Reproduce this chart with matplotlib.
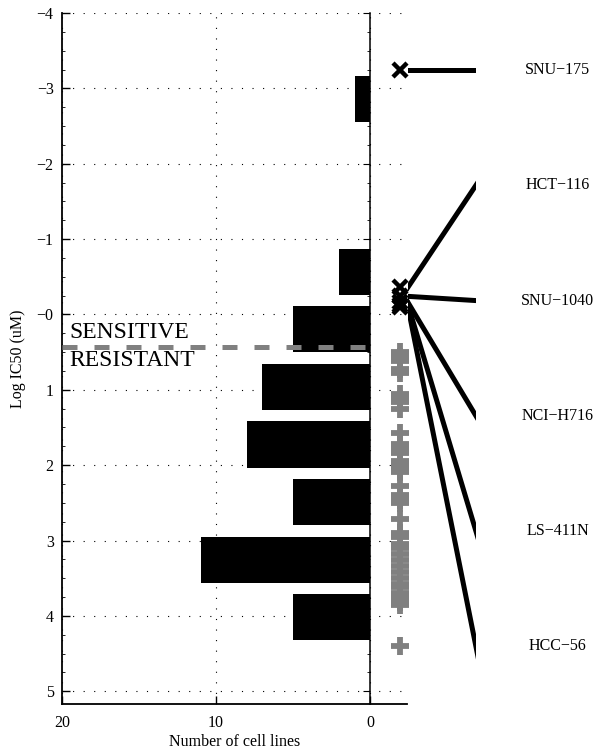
import numpy as np
import matplotlib
matplotlib.use("Agg")
import matplotlib.pyplot as plt
from matplotlib.patches import Rectangle
from matplotlib.ticker import MultipleLocator

plt.rcParams["font.family"] = ["Liberation Serif", "DejaVu Serif"]

# Sensitive cell lines (log IC50, uM) and their names
sensitive_names = ["SNU\u2212175", "HCT\u2212116", "SNU\u22121040",
                   "NCI\u2212H716", "LS\u2212411N", "HCC\u221256"]
sensitive_vals = [-3.24, -0.36, -0.24, -0.16, -0.13, -0.10]

# Resistant cell lines (log IC50, uM)
resistant_vals = [0.50, 0.56,
                  0.62, 0.72, 0.78, 1.06, 1.12, 1.16, 1.25,
                  1.58, 1.72, 1.78, 1.84, 1.94, 2.00, 2.05, 2.09,
                  2.28, 2.40, 2.46, 2.50, 2.72,
                  2.90, 2.96, 3.04, 3.10, 3.18, 3.26, 3.34, 3.42, 3.50, 3.58, 3.62,
                  3.70, 3.76, 3.82, 3.86, 4.40]

threshold = 0.436
ytick_vals = [-4, -3, -2, -1, 0, 1, 2, 3, 4, 5]
ytick_labels = ["\u22124", "\u22123", "\u22122", "\u22121", "\u22120",
                "1", "2", "3", "4", "5"]
xtick_vals = [20, 10, 0]
xtick_labels = ["20", "10", "0"]

GRAY = "#808080"
FS = 11.5

fig = plt.figure(figsize=(5.98, 7.52), dpi=100)
ax = fig.add_axes([0.1037, 0.0638, 0.5777, 0.9189])

all_vals = np.array(sensitive_vals + resistant_vals)
counts, edges = np.histogram(all_vals, bins=10)
centers = 0.5 * (edges[:-1] + edges[1:])
binw = edges[1] - edges[0]
ax.barh(centers, counts, height=0.8 * binw, color="black", linewidth=0, zorder=2)

xmin_lim, xmax_lim = 20, -2.44
ax.set_xlim(xmin_lim, xmax_lim)
ax.set_ylim(5.17, -4)

ax.set_yticks(ytick_vals, ytick_labels)
ax.set_xticks(xtick_vals, xtick_labels)
ax.yaxis.set_minor_locator(MultipleLocator(0.25))
ax.tick_params(axis="y", which="major", direction="in", length=6, width=1,
               labelsize=FS, pad=6)
ax.tick_params(axis="y", which="minor", direction="in", length=2.5, width=0.6)
ax.tick_params(axis="x", which="major", direction="in", length=6, width=1,
               labelsize=FS, pad=8)
for s in ["top", "right"]:
    ax.spines[s].set_visible(False)
for s in ["left", "bottom"]:
    ax.spines[s].set_linewidth(1.3)
ax.set_axisbelow(True)
ax.grid(True, color="black", linewidth=0.8, linestyle=(0, (1.0, 8.5)))

ax.set_ylabel("Log IC50 (uM)", fontsize=FS, labelpad=8)
ax.set_xlabel("Number of cell lines", fontsize=FS, labelpad=2)

# Vertical baseline at zero count with its own tick marks
frac0 = (xmin_lim - 0) / (xmin_lim - xmax_lim)
ax0 = ax.inset_axes([0, 0, frac0, 1])
ax0.set_ylim(5.17, -4)
ax0.patch.set_visible(False)
for s in ["top", "left", "bottom"]:
    ax0.spines[s].set_visible(False)
ax0.spines["right"].set_linewidth(1.1)
ax0.set_xticks([])
ax0.yaxis.tick_right()
ax0.set_yticks(ytick_vals)
ax0.yaxis.set_minor_locator(MultipleLocator(0.25))
ax0.tick_params(axis="y", which="major", direction="in", length=5, width=0.8,
                labelright=False)
ax0.tick_params(axis="y", which="minor", direction="in", length=2.5, width=0.6)

# Sensitive / resistant boundary
ax.plot([20, 0], [threshold, threshold], color=GRAY, linewidth=3.6,
        linestyle=(0, (3.0, 3.4)), zorder=4)
ax.text(19.55, threshold - 0.06, "SENSITIVE", fontsize=17, ha="left",
        va="bottom", zorder=5)
ax.text(19.55, threshold + 0.04, "RESISTANT", fontsize=17, ha="left",
        va="top", zorder=5)

# Individual cell lines
mx = -1.95
ax.plot([mx] * len(resistant_vals), resistant_vals, linestyle="none",
        marker="+", markersize=12.5, markeredgewidth=4.2, color=GRAY,
        clip_on=False, zorder=3)
ax.plot([mx] * len(sensitive_vals), sensitive_vals, linestyle="none",
        marker="x", markersize=10, markeredgewidth=3.2, color="black",
        clip_on=False, zorder=4)

# Leader lines to the names of the sensitive lines
label_y = np.linspace(all_vals.min(), all_vals.max(), len(sensitive_names))
x_start, x_end, x_text = -2.47, -6.88, -12.2
clip_rect = Rectangle((x_end, -10), x_start - x_end, 20,
                      transform=ax.transData)
for name, v, ly in zip(sensitive_names, sensitive_vals, label_y):
    dx = x_end - x_start
    dy = ly - v
    xs = [x_start - 0.2 * dx, x_end + 0.2 * dx]
    ys = [v - 0.2 * dy, ly + 0.2 * dy]
    ln, = ax.plot(xs, ys, color="black", linewidth=3.6, zorder=4,
                  solid_capstyle="butt")
    ln.set_clip_box(None)
    ln.set_clip_path(clip_rect)
    ax.text(x_text, ly, name, fontsize=FS, ha="center", va="center",
            clip_on=False)

fig.savefig("out.png", dpi=100)
